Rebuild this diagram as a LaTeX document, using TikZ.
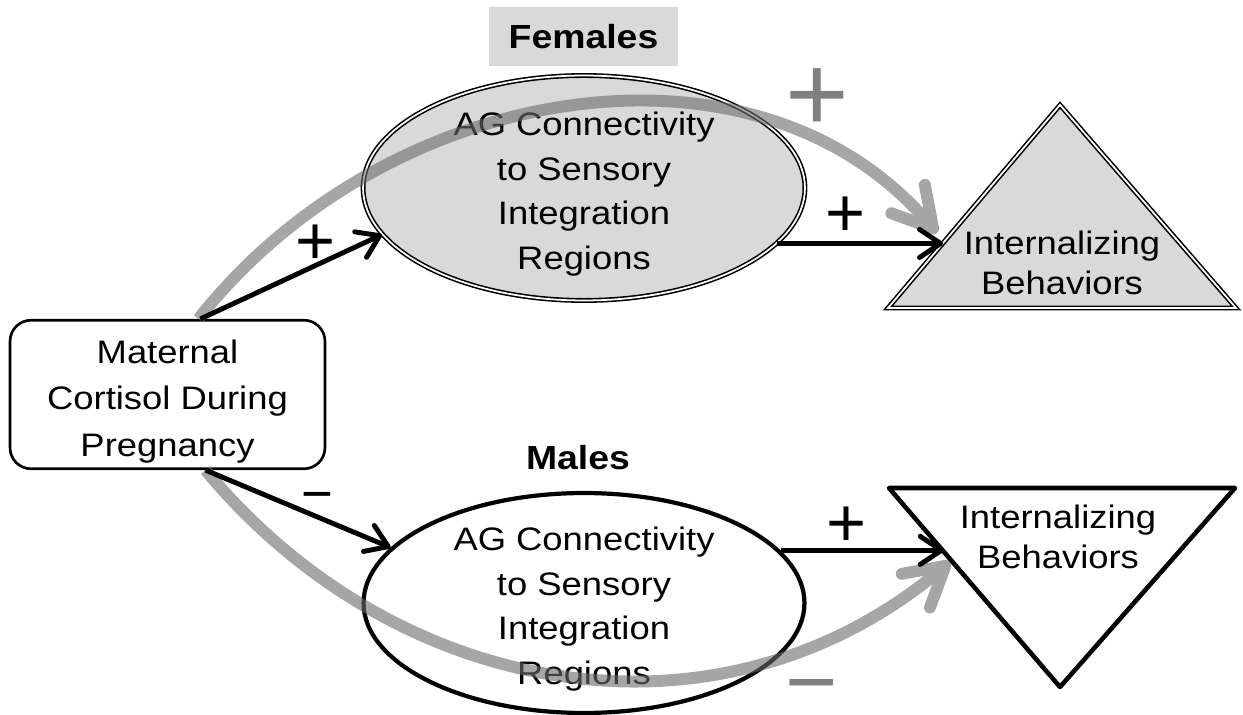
\documentclass[tikz,border=0pt]{standalone}
\usepackage{fontspec}
\setmainfont{Liberation Sans}[FakeStretch=1.12]
\newfontfamily\signfont{Liberation Sans}
\usepackage{xcolor}
\usetikzlibrary{shapes.geometric,arrows.meta,calc}
\definecolor{fillgray}{RGB}{217,217,217}
\definecolor{curvegray}{RGB}{107,107,107}
\definecolor{signgray}{RGB}{128,128,128}
\newcommand{\topstrut}{\rule{0pt}{1.1em}}

\begin{document}
\begin{tikzpicture}[x=0.02cm, y=-0.02cm,
  every node/.style={font=\fontsize{18.5}{25.5}\selectfont, align=center},
  pathway/.style={ellipse, inner xsep=0pt, inner ysep=-8pt},
  dbl/.style={line width=0.9pt, double=white, double distance=1pt},
  arr/.style={line width=2.8pt, -{Straight Barb[length=12pt,width=16pt,round]}},
  grayarr/.style={line width=6.8pt, curvegray, -{Straight Barb[length=22pt,width=25pt,round]}},
  sign/.style={font=\signfont\fontsize{39}{39}\selectfont, inner sep=0pt},
  bigsign/.style={font=\signfont\fontsize{62}{62}\selectfont, inner sep=0pt, text=signgray},
  sexlabel/.style={font=\bfseries\fontsize{19}{19}\selectfont}]
  \useasboundingbox (0,0) rectangle (1243,715);

  % Females pathway
  \node[sexlabel, fill=fillgray, minimum width=3.78cm, minimum height=1.18cm] (flab) at (583.5,36.5) {Females};
  \node[pathway, draw, dbl, fill=fillgray, minimum width=8.84cm, minimum height=4.5cm] (fem) at (584,188)
    {\topstrut AG Connectivity\\to Sensory\\Integration\\Regions};
  \coordinate (fTop) at (1060,105);
  \coordinate (fRight) at (1236,308);
  \coordinate (fLeft) at (888,308);
  \draw[dbl, fill=fillgray] (fTop) -- (fRight) -- (fLeft) -- cycle;
  \node[font=\fontsize{18.5}{23}\selectfont] (fBeh) at (1062,263) {Internalizing\\Behaviors};
  \coordinate (fIn) at ($(fLeft)!0.32!(fTop)$);
  \coordinate (fGrayIn) at (937,233);

  % Cortisol box
  \node[draw, rounded corners=12pt, line width=1.5pt, minimum width=6.3cm, minimum height=2.94cm,
    font=\fontsize{18.5}{26.4}\selectfont] (cort) at (167.5,394.5) {\rule{0pt}{1.15em}Maternal\\Cortisol During\\Pregnancy};

  % Males pathway
  \node[sexlabel] (mlab) at (578,458) {Males};
  \node[pathway, draw, line width=2.4pt, minimum width=8.82cm, minimum height=4.4cm] (mal) at (584,603)
    {\topstrut AG Connectivity\\to Sensory\\Integration\\Regions};
  \coordinate (mTopL) at (889,488);
  \coordinate (mTopR) at (1235,488);
  \coordinate (mBot) at (1060,687);
  \draw[line width=2.6pt, line join=round] (mTopL) -- (mTopR) -- (mBot) -- cycle;
  \node[font=\fontsize{18.5}{23}\selectfont] (mBeh) at (1058,537) {Internalizing\\Behaviors};
  \coordinate (mIn) at ($(mTopL)!0.32!(mBot)$);
  \coordinate (mGrayIn) at (950,562);

  % total effects (grey)
  \begin{scope}[transparency group, opacity=0.6]
    \draw[grayarr] ($(cort.north)+(31,0)$) .. controls (385,82) and (755,19) .. (fGrayIn);
    \draw[grayarr] ($(cort.south)+(38,0)$) .. controls (398,702) and (720,755) .. (mGrayIn);
  \end{scope}

  % paths (black)
  \draw[arr] ($(cort.north)+(33,0)$) -- (fem.193);
  \draw[arr] (fem.-16) -- (fem.-16 -| fIn);
  \draw[arr] ($(cort.south)+(38,0)$) -- (mal.164);
  \draw[arr] (mal.15) -- (mal.15 -| mIn);

  % signs
  \node[sign] (s1) at (316,245) {+};
  \node[sign] (s2) at (845,217) {+};
  \node[sign, font=\signfont\fontsize{31}{31}\selectfont] (s3) at (317,502) {−};
  \node[sign] (s4) at (846,527) {+};
  \node[bigsign] (s5) at (817,100) {+};
  \node[bigsign, font=\signfont\fontsize{51}{51}\selectfont] (s6) at (812,696) {−};
\end{tikzpicture}
\end{document}
